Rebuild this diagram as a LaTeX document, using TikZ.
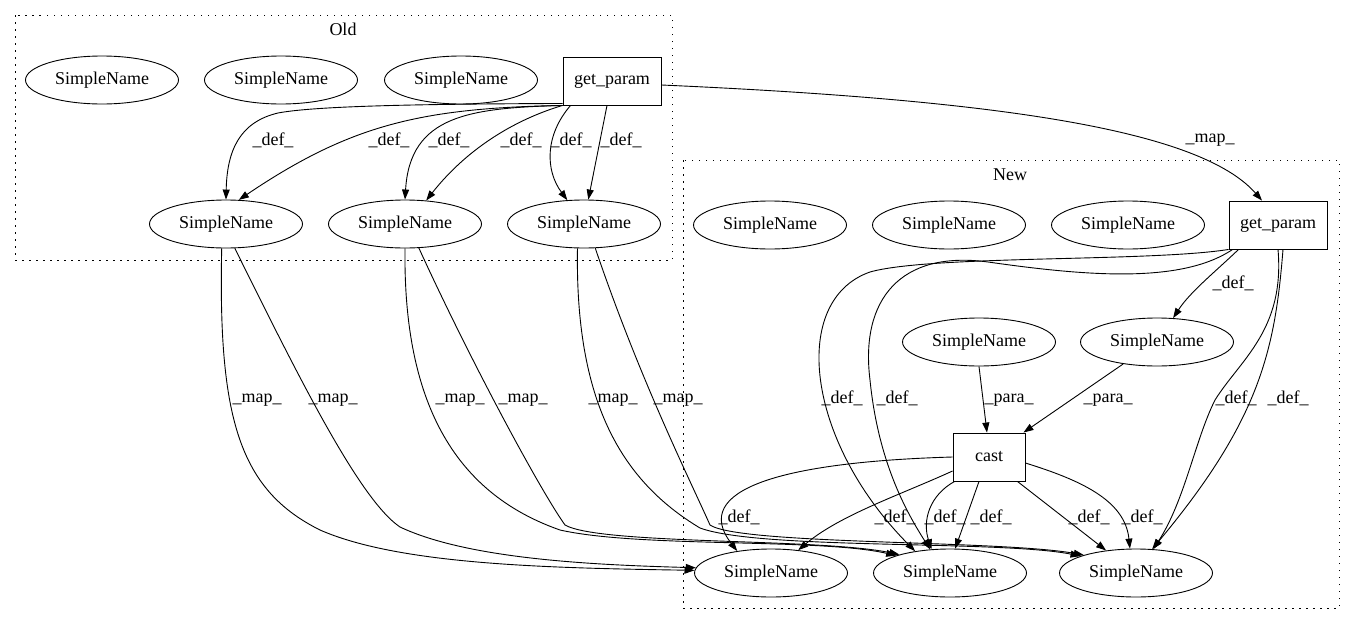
\documentclass[tikz,border=0pt]{standalone}
\usepackage{fontspec}
\setmainfont{Liberation Serif}
\usetikzlibrary{arrows.meta,shapes.geometric}

\begin{document}
\begin{tikzpicture}[x=1pt, y=-1pt, line width=0.9pt,
		font=\fontsize{18pt}{20pt}\selectfont,
		sn/.style = {ellipse, draw, minimum width=153pt, minimum height=48pt, inner sep=0pt},
		op/.style = {rectangle, draw, minimum width=98pt, minimum height=48pt, inner sep=0pt},
		lbl/.style = {inner sep=0pt},
		edge/.style = {-{Triangle[length=10pt,width=7pt]}},
		cluster/.style = {dash pattern=on 1.5pt off 5.5pt}]
		\useasboundingbox (0,0) rectangle (1355,624);
		% clusters
		\draw [cluster] (15,15) rectangle (672,260);
		\node (old) at (343,29) {Old};
		\draw [cluster] (683,160) rectangle (1339,608);
		\node (new) at (1010,175) {New};
		%
		\node [sn] (oa) at (102,80) {SimpleName};
		\node [sn] (ob) at (281,80) {SimpleName};
		\node [sn] (oc) at (461,80) {SimpleName};
		\node [op] (ogp) at (612,81) {get\_param};
		\node [sn] (osa) at (226,224) {SimpleName};
		\node [sn] (osb) at (405,224) {SimpleName};
		\node [sn] (osc) at (584,224) {SimpleName};
		%
		\node [sn] (na) at (770,225) {SimpleName};
		\node [sn] (nb) at (949,225) {SimpleName};
		\node [sn] (nc) at (1128,225) {SimpleName};
		\node [op] (ngp) at (1278,225) {get\_param};
		\node [sn] (nl) at (979,342) {SimpleName};
		\node [sn] (nr) at (1157,342) {SimpleName};
		\node [op, minimum width=72pt] (ncast) at (989,457) {cast};
		\node [sn] (nx) at (771,573) {SimpleName};
		\node [sn] (ny) at (950,573) {SimpleName};
		\node [sn] (nz) at (1136,573) {SimpleName};
		%
		\draw [edge] ([yshift=2pt]ogp.south west) .. controls (450,104) and (320,105) .. (278,113)
			.. controls (240,122) and (227,150) .. (osa.north);
		\draw [edge] (ogp.south west) .. controls (420,108) and (350,125) .. (osa.62);
		\draw [edge] (ogp.south west) .. controls (470,108) and (410,115) .. (osb.north);
		\draw [edge] (ogp.south west) .. controls (520,118) and (470,145) .. (osb.48);
		\draw [edge] ([xshift=8pt]ogp.south west) .. controls (545,135) and (545,170) .. (osc.125);
		\draw [edge] ([xshift=-5pt]ogp.south) -- (osc.80);
		\node [lbl] (d1) at (273,140) {\_def\_};
		\node [lbl] (d2) at (389,140) {\_def\_};
		\node [lbl] (d3) at (449,140) {\_def\_};
		\node [lbl] (d4) at (521,140) {\_def\_};
		\node [lbl] (d5) at (571,140) {\_def\_};
		\node [lbl] (d6) at (621,140) {\_def\_};
		%
		\draw [edge] (osa.260) .. controls (218,420) and (240,490) .. (320,530)
			.. controls (400,565) and (550,568) .. (nx.178);
		\draw [edge] (osa.290) .. controls (300,380) and (360,500) .. (400,527)
			.. controls (470,560) and (600,565) .. (nx.176);
		\draw [edge] (osb.south) .. controls (403,410) and (460,495) .. (560,530)
			.. controls (640,548) and (820,538) .. (ny.162);
		\draw [edge] (osb.300) .. controls (470,360) and (540,490) .. (565,525)
			.. controls (600,545) and (820,538) .. (ny.160);
		\draw [edge] (osc.255) .. controls (575,400) and (620,480) .. (700,528)
			.. controls (760,550) and (1000,540) .. (nz.163);
		\draw [edge] (osc.295) .. controls (640,380) and (690,480) .. (710,525)
			.. controls (740,545) and (1000,540) .. (nz.161);
		\node [lbl] (m1) at (257,400) {\_map\_};
		\node [lbl] (m2) at (333,400) {\_map\_};
		\node [lbl] (m3) at (460,400) {\_map\_};
		\node [lbl] (m4) at (523,400) {\_map\_};
		\node [lbl] (m5) at (613,400) {\_map\_};
		\node [lbl] (m6) at (678,400) {\_map\_};
		%
		\draw [edge] ([yshift=-4pt]ogp.east) .. controls (1000,100) and (1200,130) .. ([xshift=-16pt]ngp.north);
		\node [lbl] (m7) at (1210,140) {\_map\_};
		%
		\draw [edge] ([xshift=10pt]ngp.south west) .. controls (1215,272) and (1190,292) .. (nr.56);
		\node [lbl] (d7) at (1233,283) {\_def\_};
		\draw [edge] (ngp.south west) .. controls (1150,262) and (930,255) .. (870,272)
			.. controls (790,300) and (805,440) .. (ny.148);
		\draw [edge] ([xshift=4pt]ngp.south west) .. controls (1180,285) and (1080,275) .. (988,262)
			.. controls (900,250) and (860,300) .. (870,380)
			.. controls (878,460) and (905,510) .. (ny.130);
		\draw [edge] (ngp.south) .. controls (1285,330) and (1240,360) .. (1215,400)
			.. controls (1195,440) and (1185,500) .. (nz.54);
		\draw [edge] ([xshift=5pt]ngp.south) .. controls (1275,350) and (1260,420) .. (nz.56);
		\node [lbl] (d8) at (842,398) {\_def\_};
		\node [lbl] (d9) at (897,398) {\_def\_};
		\node [lbl] (d10) at (1236,398) {\_def\_};
		\node [lbl] (d11) at (1288,398) {\_def\_};
		%
		\draw [edge] (nl.south) -- ([xshift=-2pt]ncast.north);
		\draw [edge] (nr.213) -- ([xshift=-2pt]ncast.north east);
		\node [lbl] (p1) at (1009,400) {\_para\_};
		\node [lbl] (p2) at (1108,400) {\_para\_};
		%
		\draw [edge] (ncast.west) .. controls (780,462) and (690,490) .. (nx.147);
		\draw [edge] ([yshift=-14pt]ncast.west) .. controls (900,495) and (840,515) .. (nx.40);
		\draw [edge] ([xshift=2pt]ncast.south west) .. controls (930,495) and (922,520) .. (ny.128);
		\draw [edge] ([xshift=-10pt]ncast.south) -- (ny.78);
		\draw [edge] ([xshift=-8pt]ncast.south east) -- (nz.143);
		\draw [edge] ([yshift=-6pt]ncast.east) .. controls (1080,480) and (1125,500) .. (nz.104);
		\node [lbl] (d12) at (739,517) {\_def\_};
		\node [lbl] (d13) at (895,517) {\_def\_};
		\node [lbl] (d14) at (945,517) {\_def\_};
		\node [lbl] (d15) at (991,517) {\_def\_};
		\node [lbl] (d16) at (1089,517) {\_def\_};
		\node [lbl] (d17) at (1142,517) {\_def\_};
	\end{tikzpicture}
\end{document}
